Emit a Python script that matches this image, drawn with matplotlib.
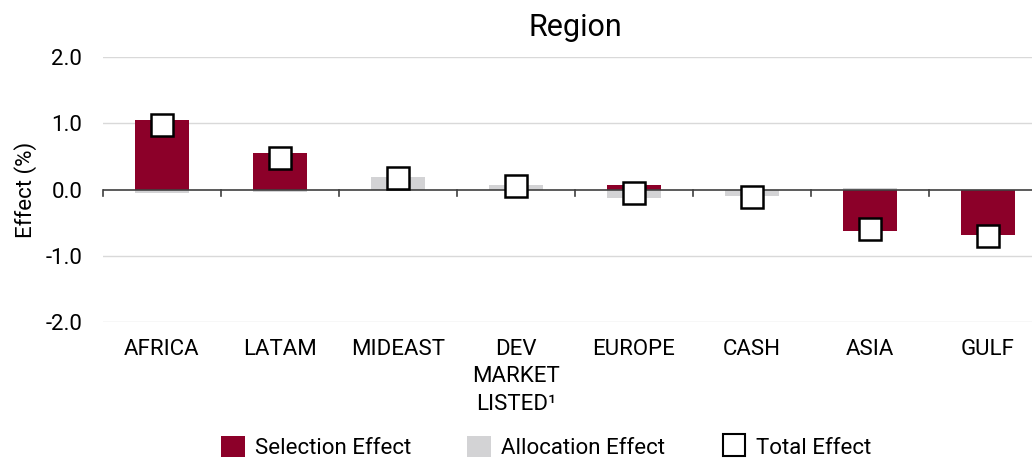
import numpy as np
import matplotlib.pyplot as plt
from matplotlib.patches import Patch
from matplotlib.lines import Line2D

plt.rcParams['font.family'] = ['Roboto', 'DejaVu Sans']

regions = ["AFRICA", "LATAM", "MIDEAST", "DEV\nMARKET\nLISTED\u00b9", "EUROPE", "CASH", "ASIA", "GULF"]
selection = [1.05, 0.55, 0.0, 0.0, 0.07, 0.0, -0.63, -0.69]
allocation = [-0.05, -0.04, 0.19, 0.07, -0.13, -0.10, 0.02, 0.0]
total = [0.98, 0.48, 0.18, 0.06, -0.05, -0.11, -0.60, -0.70]

red = "#8c0029"
grey = "#d3d3d5"

fig = plt.figure(figsize=(10.32, 4.61), dpi=100)
ax = fig.add_axes([0.0998, 0.3015, 0.9147, 0.5745])

x = np.arange(len(regions))
w = 0.45
ax.bar(x, allocation, width=w, color=grey, zorder=2)
ax.bar(x, selection, width=w, color=red, zorder=3)
ax.plot(x, total, ls='none', marker='s', markersize=16, markerfacecolor='white',
        markeredgecolor='black', markeredgewidth=1.8, zorder=5)

ax.set_xlim(-0.5, len(regions) - 0.5)
ax.set_ylim(-2.0, 2.0)
ax.set_yticks([-2, -1, 0, 1, 2])
ax.set_yticklabels(["-2.0", "-1.0", "0.0", "1.0", "2.0"], fontsize=16)
for v in [-2, -1, 1, 2]:
    ax.axhline(v, color="#d9d9d9", lw=1, zorder=1)
ax.axhline(0, color="#404040", lw=1.2, zorder=4)
for b in np.arange(-0.5, len(regions), 1.0):
    ax.plot([b, b], [0, -0.09], color="#404040", lw=1.2, zorder=4, clip_on=False)

for s in ax.spines.values():
    s.set_visible(False)
ax.tick_params(axis='y', length=0, pad=15)
ax.tick_params(axis='x', length=0, pad=12)
ax.set_xticks(x)
ax.set_xticklabels(regions, fontsize=16, linespacing=1.42, va='top')

ax.set_ylabel("Effect (%)", fontsize=16, labelpad=6)
ax.set_title("Region", fontsize=22, pad=15)

handles = [Patch(facecolor=red, edgecolor='none'),
           Patch(facecolor=grey, edgecolor='none'),
           Line2D([], [], ls='none', marker='s', markersize=16, markerfacecolor='white',
                  markeredgecolor='black', markeredgewidth=1.5)]
fig.legend(handles, ["Selection Effect", "Allocation Effect", "Total Effect"],
           loc='center', bbox_to_anchor=(0.529, 0.03), ncol=3, frameon=False,
           fontsize=16, handlelength=1.08, handleheight=1.08, columnspacing=2.55,
           handletextpad=0.45, borderpad=0.2)

fig.savefig("out.png", dpi=100)
